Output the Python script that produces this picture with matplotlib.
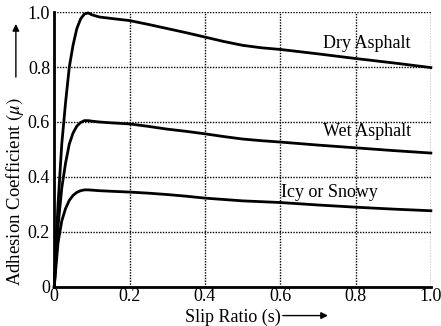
import matplotlib
matplotlib.use("Agg")
import matplotlib.pyplot as plt
import numpy as np

plt.rcParams['font.family'] = ['Liberation Serif', 'DejaVu Serif']
plt.rcParams['mathtext.fontset'] = 'stix'

# slip ratio samples and adhesion coefficients
slip = [0.0, 0.01, 0.02, 0.03, 0.04, 0.05, 0.06, 0.07, 0.08, 0.09, 0.1, 0.12, 0.15,
        0.2, 0.25, 0.3, 0.35, 0.4, 0.45, 0.5, 0.55, 0.6, 0.7, 0.8, 0.9, 1.0]
dry = [0.0, 0.30, 0.52, 0.67, 0.80, 0.88, 0.94, 0.975, 0.993, 0.997, 0.99, 0.982, 0.977,
       0.969, 0.955, 0.94, 0.925, 0.909, 0.893, 0.879, 0.87, 0.864, 0.848, 0.831, 0.815, 0.798]
wet = [0.0, 0.22, 0.36, 0.45, 0.52, 0.56, 0.585, 0.598, 0.605, 0.605, 0.603, 0.6, 0.597,
       0.593, 0.584, 0.574, 0.566, 0.557, 0.547, 0.538, 0.532, 0.527, 0.516, 0.506, 0.496, 0.487]
icy = [0.0, 0.16, 0.24, 0.285, 0.315, 0.333, 0.344, 0.35, 0.353, 0.353, 0.352, 0.35, 0.348,
       0.345, 0.341, 0.336, 0.33, 0.323, 0.318, 0.313, 0.31, 0.307, 0.298, 0.29, 0.283, 0.277]

surfaces = ['Dry Asphalt', 'Wet Asphalt', 'Icy or Snowy']
label_pos = [(0.83, 0.885), (0.83, 0.567), (0.73, 0.343)]

xticks = [0, 0.2, 0.4, 0.6, 0.8, 1.0]
yticks = [0, 0.2, 0.4, 0.6, 0.8, 1.0]
xticklabels = ['0', '0.2', '0.4', '0.6', '0.8', '1.0']
yticklabels = ['0', '0.2', '0.4', '0.6', '0.8', '1.0']

fig = plt.figure(figsize=(4.41, 3.26), dpi=100)
ax = fig.add_axes([0.123, 0.12, 0.854, 0.843])

for ys in (dry, wet, icy):
    ax.plot(slip, ys, color='black', lw=2.0, clip_on=False)

for name, (x, y) in zip(surfaces, label_pos):
    ax.text(x, y, name, fontsize=13, ha='center', va='center')

ax.set_xlim(0, 1.0)
ax.set_ylim(0, 1.0)
ax.set_xticks(xticks)
ax.set_yticks(yticks)
ax.set_xticklabels(xticklabels, fontsize=13)
ax.set_yticklabels(yticklabels, fontsize=13)
ax.tick_params(axis='x', length=0, pad=1)
ax.tick_params(axis='y', length=0, pad=3)

ax.grid(True, linestyle=(0, (1, 1)), color='black', lw=1.0)
ax.spines['top'].set_visible(False)
ax.spines['right'].set_visible(False)
ax.spines['left'].set_linewidth(2.0)
ax.spines['bottom'].set_linewidth(2.0)

# axis titles with arrows
fig.text(0.529, 0.028, 'Slip Ratio (s)', fontsize=13, ha='center', va='center')
fig.text(0.034, 0.412, r'Adhesion Coefficient $(\mu)$', fontsize=13.5,
         rotation=90, ha='center', va='center')
fig.add_artist(matplotlib.patches.FancyArrowPatch(
    (0.635, 0.032), (0.75, 0.032), transform=fig.transFigure,
    arrowstyle='-|>', mutation_scale=10, lw=1.0, color='black'))
fig.add_artist(matplotlib.patches.FancyArrowPatch(
    (0.036, 0.755), (0.036, 0.935), transform=fig.transFigure,
    arrowstyle='-|>', mutation_scale=10, lw=1.0, color='black'))

fig.savefig('out.png', dpi=100)
